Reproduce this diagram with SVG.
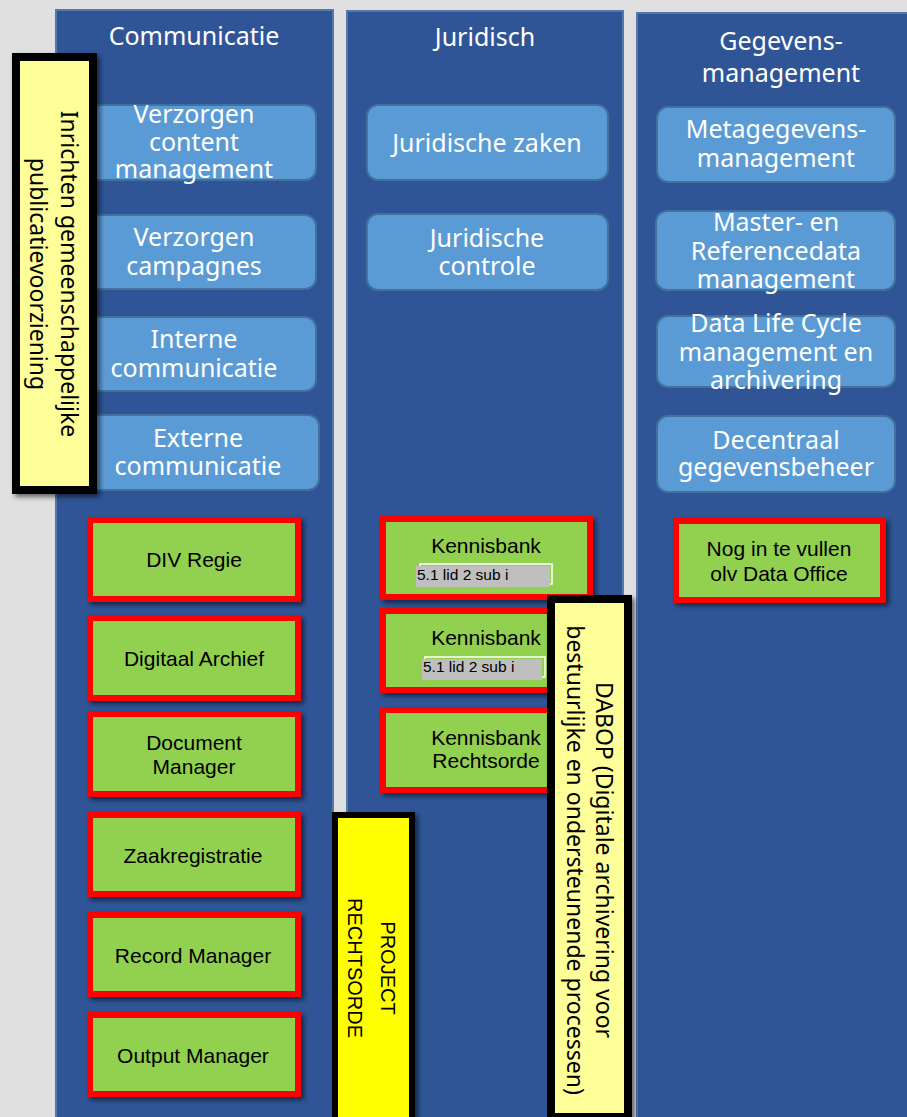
<svg xmlns="http://www.w3.org/2000/svg" width="907" height="1117" viewBox="0 0 907 1117">
<defs>
<style>
.col{fill:#2f5597;stroke:#5479ad;stroke-width:2}
.ttl{font-family:"Noto Sans","Open Sans",sans-serif;font-size:25px;fill:#ffffff;text-anchor:middle}
.bb{fill:#5b9bd5;stroke:#41719c;stroke-width:2}
.bt{font-family:"Noto Sans","Open Sans",sans-serif;font-size:25px;fill:#ffffff;text-anchor:middle}
.gb{fill:#92d050;stroke:#ff0000;stroke-width:6}
.gt{font-family:"Liberation Sans",Arial,sans-serif;font-size:21px;fill:#000000;text-anchor:middle}
.lbl{font-family:"Liberation Sans",Arial,sans-serif;font-size:15.5px;fill:#000000}
.yt{font-family:"Noto Sans","Open Sans",sans-serif;font-size:23px;fill:#000000;text-anchor:middle}
.pt{font-family:"Liberation Sans",Arial,sans-serif;font-size:20px;fill:#000000;text-anchor:middle}
</style>
<filter id="sh" x="-20%" y="-20%" width="140%" height="140%">
<feDropShadow dx="3" dy="3" stdDeviation="2.5" flood-color="#000000" flood-opacity="0.55"/>
</filter>
</defs>
<rect x="0" y="0" width="907" height="1117" fill="#e0e0e0"/>

<g id="col-communicatie">
<rect class="col" x="56" y="10" width="277" height="1120"/>
<text class="ttl" x="194" y="45">Communicatie</text>
</g>
<g id="col-juridisch">
<rect class="col" x="347" y="11" width="276" height="1120"/>
<text class="ttl" x="485" y="46">Juridisch</text>
</g>
<g id="col-gegevens">
<rect class="col" x="637" y="13" width="290" height="1120"/>
<text class="ttl" x="781" y="50">Gegevens-</text>
<text class="ttl" x="781" y="82">management</text>
</g>

<g id="b-content">
<rect class="bb" x="72" y="105" width="244" height="75" rx="11"/>
<text class="bt" x="194" y="123">Verzorgen</text>
<text class="bt" x="194" y="151">content</text>
<text class="bt" x="194" y="178">management</text>
</g>
<g id="b-campagnes">
<rect class="bb" x="72" y="215" width="244" height="74" rx="11"/>
<text class="bt" x="194" y="246">Verzorgen</text>
<text class="bt" x="194" y="275">campagnes</text>
</g>
<g id="b-interne">
<rect class="bb" x="72" y="317" width="244" height="74" rx="11"/>
<text class="bt" x="194" y="348">Interne</text>
<text class="bt" x="194" y="377">communicatie</text>
</g>
<g id="b-externe">
<rect class="bb" x="76" y="415" width="243" height="75" rx="11"/>
<text class="bt" x="198" y="447">Externe</text>
<text class="bt" x="198" y="475">communicatie</text>
</g>

<g id="b-jurzaken">
<rect class="bb" x="367" y="105" width="241" height="75" rx="11"/>
<text class="bt" x="487" y="152">Juridische zaken</text>
</g>
<g id="b-jurcontrole">
<rect class="bb" x="367" y="214" width="241" height="76" rx="11"/>
<text class="bt" x="487" y="247">Juridische</text>
<text class="bt" x="487" y="275">controle</text>
</g>

<g id="b-meta">
<rect class="bb" x="657" y="107" width="238" height="75" rx="11"/>
<text class="bt" x="776" y="138">Metagegevens-</text>
<text class="bt" x="776" y="167">management</text>
</g>
<g id="b-master">
<rect class="bb" x="656" y="211" width="239" height="79" rx="11"/>
<text class="bt" x="776" y="231">Master- en</text>
<text class="bt" x="776" y="260">Referencedata</text>
<text class="bt" x="776" y="288">management</text>
</g>
<g id="b-lifecycle">
<rect class="bb" x="657" y="316" width="238" height="71" rx="11"/>
<text class="bt" x="776" y="332">Data Life Cycle</text>
<text class="bt" x="776" y="361">management en</text>
<text class="bt" x="776" y="389">archivering</text>
</g>
<g id="b-decentraal">
<rect class="bb" x="657" y="416" width="238" height="76" rx="11"/>
<text class="bt" x="776" y="449">Decentraal</text>
<text class="bt" x="776" y="476">gegevensbeheer</text>
</g>

<g id="g-div">
<rect class="gb" x="90" y="520" width="208" height="79" filter="url(#sh)"/>
<text class="gt" x="194" y="567">DIV Regie</text>
</g>
<g id="g-archief">
<rect class="gb" x="90" y="618" width="208" height="80" filter="url(#sh)"/>
<text class="gt" x="194" y="666">Digitaal Archief</text>
</g>
<g id="g-docman">
<rect class="gb" x="90" y="714" width="208" height="80" filter="url(#sh)"/>
<text class="gt" x="194" y="750">Document</text>
<text class="gt" x="194" y="774">Manager</text>
</g>
<g id="g-zaak">
<rect class="gb" x="90" y="815" width="208" height="79" filter="url(#sh)"/>
<text class="gt" x="193" y="863">Zaakregistratie</text>
</g>
<g id="g-record">
<rect class="gb" x="90" y="915" width="208" height="79" filter="url(#sh)"/>
<text class="gt" x="193" y="963">Record Manager</text>
</g>
<g id="g-output">
<rect class="gb" x="90" y="1015" width="208" height="79" filter="url(#sh)"/>
<text class="gt" x="193" y="1063">Output Manager</text>
</g>

<g id="g-kb1">
<rect class="gb" x="383" y="519" width="207" height="78" filter="url(#sh)"/>
<text class="gt" x="486" y="553">Kennisbank</text>
<rect x="420" y="564" width="132" height="20" fill="none" stroke="#ffffff" stroke-width="1.5"/>
<rect x="416" y="566" width="134" height="21" fill="#bfbfbf"/>
<text class="lbl" x="417" y="580">5.1 lid 2 sub i</text>
</g>
<g id="g-kb2">
<rect class="gb" x="383" y="611" width="207" height="79" filter="url(#sh)"/>
<text class="gt" x="486" y="645">Kennisbank</text>
<rect x="425" y="657" width="120" height="20" fill="none" stroke="#ffffff" stroke-width="1.5"/>
<rect x="422" y="659" width="120" height="21" fill="#bfbfbf"/>
<text class="lbl" x="423" y="672">5.1 lid 2 sub i</text>
</g>
<g id="g-kb3">
<rect class="gb" x="383" y="710" width="207" height="80" filter="url(#sh)"/>
<text class="gt" x="486" y="745">Kennisbank</text>
<text class="gt" x="486" y="768">Rechtsorde</text>
</g>

<g id="g-nog">
<rect class="gb" x="676" y="521" width="207" height="79" filter="url(#sh)"/>
<text class="gt" x="779" y="556">Nog in te vullen</text>
<text class="gt" x="779" y="581">olv Data Office</text>
</g>

<g id="y-inrichten">
<rect x="16" y="57" width="77" height="433" fill="#ffff99" stroke="#000000" stroke-width="8" filter="url(#sh)"/>
<text class="yt" transform="translate(61,274) rotate(90)">Inrichten gemeenschappelijke</text>
<text class="yt" transform="translate(30,274) rotate(90)">publicatievoorziening</text>
</g>

<g id="y-project">
<rect x="335" y="815" width="77" height="320" fill="#ffff00" stroke="#000000" stroke-width="6" filter="url(#sh)"/>
<text class="pt" transform="translate(381,968) rotate(90)">PROJECT</text>
<text class="pt" transform="translate(348,968) rotate(90)">RECHTSORDE</text>
</g>

<g id="y-dabop">
<rect x="551" y="599" width="77" height="518" fill="#ffff99" stroke="#000000" stroke-width="8" filter="url(#sh)"/>
<text class="yt" transform="translate(596,860) rotate(90)">DABOP (Digitale archivering voor</text>
<text class="yt" transform="translate(567,860) rotate(90)">bestuurlijke en ondersteunende processen)</text>
</g>

<g id="connectors"></g>
</svg>
